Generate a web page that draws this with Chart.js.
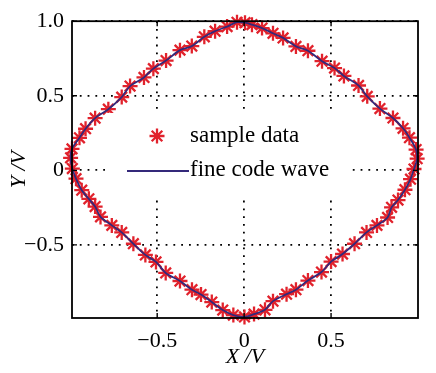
<!DOCTYPE html>
<html>
<head>
<meta charset="utf-8">
<script src="https://cdn.jsdelivr.net/npm/chart.js@4/dist/chart.umd.min.js"></script>
<style>
  html, body { margin: 0; padding: 0; background: #fff; }
  #chart { display: block; }
</style>
</head>
<body>
<canvas id="chart" width="436" height="373"></canvas>
<script>
// sample points, clockwise from the top
const sampleX = [-0.098, -0.041, 0.005, 0.045, 0.103, 0.166, 0.224, 0.298, 0.367, 0.448, 0.520, 0.574,
  0.658, 0.708, 0.781, 0.856, 0.914, 0.951, 0.989, 0.995, 0.977, 0.957, 0.925, 0.885, 0.848, 0.825,
  0.764, 0.704, 0.635, 0.566, 0.500, 0.445, 0.367, 0.298, 0.244, 0.166, 0.120, 0.057, 0.002, -0.062,
  -0.123, -0.186, -0.248, -0.300, -0.369, -0.451, -0.507, -0.568, -0.637, -0.704, -0.761, -0.826,
  -0.857, -0.893, -0.934, -0.967, -0.988, -0.998, -0.990, -0.947, -0.912, -0.857, -0.781, -0.704,
  -0.656, -0.576, -0.522, -0.449, -0.369, -0.301, -0.229, -0.167];
const sampleY = [0.964, 0.993, 0.990, 0.977, 0.954, 0.919, 0.888, 0.831, 0.802, 0.732, 0.686, 0.633,
  0.569, 0.496, 0.414, 0.351, 0.282, 0.219, 0.139, 0.078, 0.009, -0.059, -0.130, -0.199, -0.248, -0.316,
  -0.369, -0.416, -0.492, -0.561, -0.612, -0.682, -0.739, -0.800, -0.830, -0.877, -0.935, -0.964, -0.983, -0.970,
  -0.937, -0.883, -0.833, -0.800, -0.742, -0.688, -0.614, -0.567, -0.492, -0.416, -0.369, -0.312,
  -0.243, -0.191, -0.133, -0.056, 0.012, 0.084, 0.144, 0.218, 0.279, 0.350, 0.410, 0.491,
  0.565, 0.623, 0.682, 0.736, 0.806, 0.833, 0.895, 0.933];

const xTicks = [-0.5, 0, 0.5];
const yTicks = [-0.5, 0, 0.5, 1.0];
const xLimits = [-0.99, 1.0];
const yLimits = [-0.99, 1.0];

const seriesNames = ['sample data', 'fine code wave'];

const FONT = '"Liberation Serif", "DejaVu Serif", serif';
const starColor = '#e1222c';
const lineColor = '#34297a';

const samplePoints = sampleX.map((x, i) => ({ x: x, y: sampleY[i] }));
// the wave is a closed loop through the samples
const linePoints = samplePoints.concat([samplePoints[0]]);

function fmt(v) {
  if (v === 0) return '0';
  const s = Math.abs(v).toFixed(1);
  return (v < 0 ? '\u2212' : '') + s;
}

// frame, inward ticks and the legend (MATLAB style)
const matlabBits = {
  id: 'matlabBits',
  afterDraw(chart) {
    const ctx = chart.ctx;
    const a = chart.chartArea;
    const xs = chart.scales.x, ys = chart.scales.y;
    ctx.save();

    // inward tick marks on all four sides
    ctx.strokeStyle = '#000';
    ctx.lineWidth = 1.4;
    ctx.beginPath();
    xTicks.forEach(v => {
      const px = xs.getPixelForValue(v);
      ctx.moveTo(px, a.bottom); ctx.lineTo(px, a.bottom - 5);
      ctx.moveTo(px, a.top); ctx.lineTo(px, a.top + 5);
    });
    yTicks.forEach(v => {
      const py = ys.getPixelForValue(v);
      ctx.moveTo(a.left, py); ctx.lineTo(a.left + 5, py);
      ctx.moveTo(a.right, py); ctx.lineTo(a.right - 5, py);
    });
    ctx.stroke();

    // box
    ctx.lineWidth = 1.8;
    ctx.strokeRect(a.left, a.top, a.right - a.left, a.bottom - a.top);

    // legend, no border, white background
    ctx.fillStyle = '#fff';
    ctx.fillRect(106, 113, 243, 82);

    // star marker
    const sx = 157, sy = 136, r = 7.5;
    ctx.strokeStyle = starColor;
    ctx.lineWidth = 2.3;
    ctx.beginPath();
    for (let k = 0; k < 4; k++) {
      const ang = k * Math.PI / 4;
      ctx.moveTo(sx - r * Math.cos(ang), sy - r * Math.sin(ang));
      ctx.lineTo(sx + r * Math.cos(ang), sy + r * Math.sin(ang));
    }
    ctx.stroke();

    // line sample
    ctx.strokeStyle = lineColor;
    ctx.lineWidth = 1.8;
    ctx.beginPath();
    ctx.moveTo(127, 171); ctx.lineTo(189, 171);
    ctx.stroke();

    ctx.fillStyle = '#000';
    ctx.font = '23px ' + FONT;
    ctx.textBaseline = 'middle';
    ctx.textAlign = 'left';
    ctx.fillText(seriesNames[0], 190, 136);
    ctx.fillText(seriesNames[1], 190, 170);

    ctx.restore();
  }
};

new Chart(document.getElementById('chart'), {
  type: 'scatter',
  data: {
    datasets: [
      {
        label: seriesNames[0],
        data: samplePoints,
        pointStyle: 'star',
        pointRadius: 7.5,
        pointBorderWidth: 2.3,
        pointBorderColor: starColor,
        pointBackgroundColor: starColor,
        showLine: false,
        clip: false,
        order: 1
      },
      {
        label: seriesNames[1],
        data: linePoints,
        showLine: true,
        borderColor: lineColor,
        borderWidth: 1.8,
        pointRadius: 0,
        tension: 0.3,
        fill: false,
        clip: false,
        order: 0
      }
    ]
  },
  options: {
    responsive: false,
    animation: false,
    layout: { padding: { left: 0, right: 18, top: 16, bottom: 2 } },
    plugins: {
      legend: { display: false },
      tooltip: { enabled: false }
    },
    scales: {
      x: {
        type: 'linear',
        min: xLimits[0],
        max: xLimits[1],
        afterBuildTicks: s => { s.ticks = xTicks.map(v => ({ value: v })); },
        afterFit: s => { s.height = 53; },
        ticks: {
          callback: v => fmt(v),
          color: '#000',
          padding: 10,
          maxRotation: 0,
          font: { family: FONT, size: 22 }
        },
        grid: { color: '#000', lineWidth: 1.8, drawTicks: false },
        border: { display: false, dash: [1.8, 6] },
        title: {
          display: true,
          text: 'X /V',
          color: '#000',
          padding: { top: 0, bottom: 1 },
          font: { family: FONT, size: 22, style: 'italic' }
        }
      },
      y: {
        type: 'linear',
        min: yLimits[0],
        max: yLimits[1],
        afterBuildTicks: s => { s.ticks = yTicks.map(v => ({ value: v })); },
        afterFit: s => { s.width = 72; },
        ticks: {
          callback: v => fmt(v),
          color: '#000',
          padding: 8,
          font: { family: FONT, size: 22 }
        },
        grid: { color: '#000', lineWidth: 1.8, drawTicks: false },
        border: { display: false, dash: [1.8, 6] },
        title: {
          display: true,
          text: 'Y /V',
          color: '#000',
          padding: { top: 6, bottom: 0 },
          font: { family: FONT, size: 22, style: 'italic' }
        }
      }
    }
  },
  plugins: [matlabBits]
});
</script>
</body>
</html>
